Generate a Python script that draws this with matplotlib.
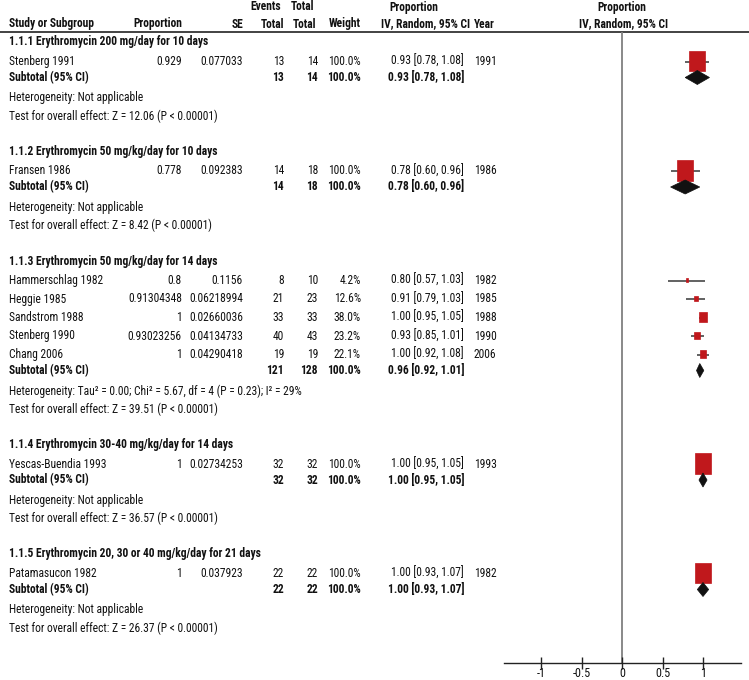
import matplotlib
matplotlib.use('Agg')
import matplotlib.pyplot as plt
from matplotlib import font_manager
from matplotlib.patches import Rectangle, Polygon

# pick a narrow sans face that also has a bold cut (the chart uses Arial Narrow)
cands = ['Liberation Sans Narrow', 'Nimbus Sans Narrow', 'Arial Narrow', 'Roboto Condensed',
         'PT Sans Narrow', 'IBM Plex Sans Condensed', 'Fira Sans Condensed', 'Asap Condensed',
         'Encode Sans Condensed', 'Barlow Semi Condensed', 'Saira SemiCondensed', 'Archivo Narrow']
bold_ok = set(f.name for f in font_manager.fontManager.ttflist
              if isinstance(f.weight, int) and f.weight >= 600)
narrow = [f for f in cands if f in bold_ok]
plt.rcParams['font.family'] = narrow[:1] + ['DejaVu Sans']

#---------------------- DATA
group_titles = ["1.1.1 Erythromycin 200 mg/day for 10 days",
                "1.1.2 Erythromycin 50 mg/kg/day for 10 days",
                "1.1.3 Erythromycin 50 mg/kg/day for 14 days",
                "1.1.4 Erythromycin 30-40 mg/kg/day for 14 days",
                "1.1.5 Erythromycin 20, 30 or 40 mg/kg/day for 21 days"]

studies = [["Stenberg 1991"],
           ["Fransen 1986"],
           ["Hammerschlag 1982", "Heggie 1985", "Sandstrom 1988", "Stenberg 1990", "Chang 2006"],
           ["Yescas-Buendia 1993"],
           ["Patamasucon 1982"]]
prop_txt = [["0.929"], ["0.778"], ["0.8", "0.91304348", "1", "0.93023256", "1"], ["1"], ["1"]]
se_txt = [["0.077033"], ["0.092383"],
          ["0.1156", "0.06218994", "0.02660036", "0.04134733", "0.04290418"],
          ["0.02734253"], ["0.037923"]]
events = [[13], [14], [8, 21, 33, 40, 19], [32], [22]]
totals = [[14], [18], [10, 23, 33, 43, 19], [32], [22]]
weights = [[100.0], [100.0], [4.2, 12.6, 38.0, 23.2, 22.1], [100.0], [100.0]]
est = [[0.93], [0.78], [0.80, 0.91, 1.00, 0.93, 1.00], [1.00], [1.00]]
lo = [[0.78], [0.60], [0.57, 0.79, 0.95, 0.85, 0.92], [0.95], [0.93]]
hi = [[1.08], [0.96], [1.03, 1.03, 1.05, 1.01, 1.08], [1.05], [1.07]]
years = [["1991"], ["1986"], ["1982", "1985", "1988", "1990", "2006"], ["1993"], ["1982"]]

sub_events = [13, 14, 121, 32, 22]
sub_totals = [14, 18, 128, 32, 22]
sub_est = [0.93, 0.78, 0.96, 1.00, 1.00]
sub_lo = [0.78, 0.60, 0.92, 0.95, 0.93]
sub_hi = [1.08, 0.96, 1.01, 1.05, 1.07]
heterogeneity = ["Heterogeneity: Not applicable",
                 "Heterogeneity: Not applicable",
                 "Heterogeneity: Tau\u00b2 = 0.00; Chi\u00b2 = 5.67, df = 4 (P = 0.23); I\u00b2 = 29%",
                 "Heterogeneity: Not applicable",
                 "Heterogeneity: Not applicable"]
overall = ["Test for overall effect: Z = 12.06 (P < 0.00001)",
           "Test for overall effect: Z = 8.42 (P < 0.00001)",
           "Test for overall effect: Z = 39.51 (P < 0.00001)",
           "Test for overall effect: Z = 36.57 (P < 0.00001)",
           "Test for overall effect: Z = 26.37 (P < 0.00001)"]

xticks = [-1, -0.5, 0, 0.5, 1]
xticklabels = ["-1", "-0.5", "0", "0.5", "1"]

#---------------------- LAYOUT (pixels)
W, H = 749, 680
fs = 8.3
col_name = 9
col_prop = 182
col_se = 243
col_ev = 284
col_tot = 318
col_wt = 361
col_ci = 464
col_year = 474
x_zero = 622
px_per_unit = 81.0
axis_y = 663
red = '#c0181c'
txtc = '#111111'

fig = plt.figure(figsize=(W/100., H/100.), dpi=100)
ax = fig.add_axes([0, 0, 1, 1])
ax.set_xlim(0, W); ax.set_ylim(H, 0)
ax.axis('off')

def put(x, y, s, ha='left', bold=False):
    ax.text(x, y, s, fontsize=fs, fontweight='bold' if bold else 'normal',
            ha=ha, va='center', color=txtc)

# forest panel, x in data units, y in pixel rows
x_lo_px, x_hi_px = 504, 741
fax = fig.add_axes([x_lo_px/W, 0, (x_hi_px-x_lo_px)/W, 1])
fax.set_xlim((x_lo_px-x_zero)/px_per_unit, (x_hi_px-x_zero)/px_per_unit)
fax.set_ylim(H, 0)
fax.patch.set_alpha(0)
for s in ['top', 'left', 'right']:
    fax.spines[s].set_visible(False)
fax.spines['bottom'].set_position(('data', axis_y))
fax.spines['bottom'].set_linewidth(1.0)
fax.spines['bottom'].set_color('#222222')
fax.set_yticks([])
fax.set_xticks(xticks)
fax.set_xticklabels(xticklabels, fontsize=fs+0.4, color=txtc)
fax.tick_params(axis='x', direction='inout', length=8, width=1.0, pad=-1, color='#222222')
u = 1.0/px_per_unit  # data units per pixel

# header
put(281, 7, "Events", 'right', True)
put(314, 7, "Total", 'right', True)
put(414, 7, "Proportion", 'center', True)
put(x_zero, 7, "Proportion", 'center', True)
hy = 24
put(col_name, hy, "Study or Subgroup", 'left', True)
put(col_prop, hy, "Proportion", 'right', True)
put(col_se, hy, "SE", 'right', True)
put(col_ev, hy, "Total", 'right', True)
put(316, hy, "Total", 'right', True)
put(col_wt, hy, "Weight", 'right', True)
put(470, hy, "IV, Random, 95% CI", 'right', True)
put(col_year, hy, "Year", 'left', True)
put(624, hy, "IV, Random, 95% CI", 'center', True)
ax.hlines(32, 0, W, color='#222222', lw=1.2)

fax.vlines(0, 32, axis_y, color='#808080', lw=1.3, zorder=1)

y = 42
for g in range(len(group_titles)):
    put(col_name, y, group_titles[g], 'left', True)
    y += 19.5
    scale = 1.0 if len(studies[g]) == 1 else 0.75
    for i in range(len(studies[g])):
        put(col_name, y, studies[g][i])
        put(col_prop, y, prop_txt[g][i], 'right')
        put(col_se, y, se_txt[g][i], 'right')
        put(col_ev, y, str(events[g][i]), 'right')
        put(col_tot, y, str(totals[g][i]), 'right')
        put(col_wt, y, "%.1f%%" % weights[g][i], 'right')
        put(col_ci, y, "%.2f [%.2f, %.2f]" % (est[g][i], lo[g][i], hi[g][i]), 'right')
        put(col_year, y, years[g][i])
        # CI line and weighted box
        fax.hlines(y, lo[g][i], hi[g][i], color='#555555', lw=1.3, zorder=2)
        bw = 16*scale*(weights[g][i]/100.)**0.5
        bh = 1.27*bw
        fax.add_patch(Rectangle((est[g][i]-bw*u/2, y-bh/2-0.5), bw*u, bh,
                                facecolor=red, edgecolor=red, lw=0.5, zorder=3))
        y += 18.5
    y += 16 - 18.5
    put(col_name, y, "Subtotal (95% CI)", 'left', True)
    put(col_ev, y, str(sub_events[g]), 'right', True)
    put(col_tot, y, str(sub_totals[g]), 'right', True)
    put(col_wt, y, "100.0%", 'right', True)
    put(col_ci, y, "%.2f [%.2f, %.2f]" % (sub_est[g], sub_lo[g], sub_hi[g]), 'right', True)
    fax.add_patch(Polygon([(sub_lo[g], y), (sub_est[g], y-7), (sub_hi[g], y), (sub_est[g], y+7)],
                          closed=True, facecolor='#111111', edgecolor='#111111', lw=0.5, zorder=4))
    y += 20.5
    put(col_name, y, heterogeneity[g])
    y += 18
    put(col_name, y, overall[g])
    y += 35.5

plt.savefig('out.png', dpi=100)
